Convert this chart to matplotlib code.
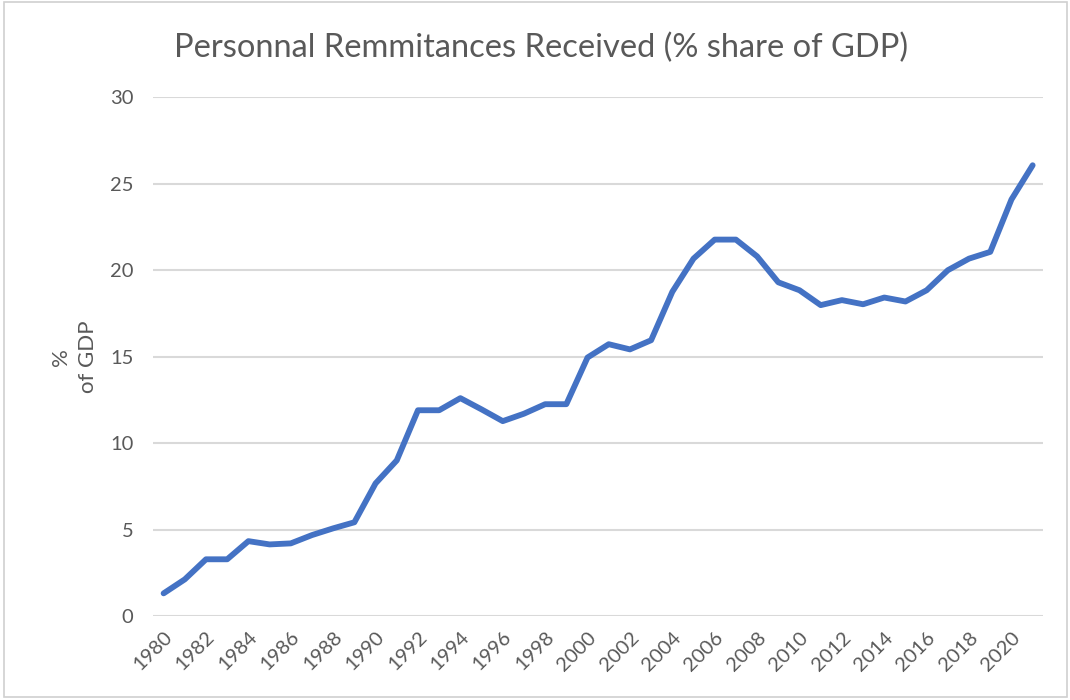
import numpy as np
import matplotlib.pyplot as plt
from matplotlib.patches import Rectangle

years = list(range(1980, 2022))
remit_pct_gdp = [1.31, 2.12, 3.28, 3.28, 4.33, 4.14, 4.20, 4.68, 5.07, 5.42,
                 7.67, 9.00, 11.90, 11.90, 12.60, 11.95, 11.27, 11.70, 12.25, 12.25,
                 14.95, 15.72, 15.42, 15.95, 18.75, 20.67, 21.77, 21.77, 20.80, 19.30,
                 18.84, 17.98, 18.27, 18.03, 18.42, 18.19, 18.84, 20.00, 20.67, 21.06,
                 24.09, 26.07]
xtick_years = list(range(1980, 2021, 2))

plt.rcParams['font.family'] = ['Lato', 'DejaVu Sans']
grey = '#595959'

fig = plt.figure(figsize=(10.7, 7.0), dpi=100)
ax = fig.add_axes([0.143, 0.12, 0.832, 0.741])

ax.plot(years, remit_pct_gdp, color='#4472C4', linewidth=4.2,
        solid_joinstyle='round', solid_capstyle='round', zorder=3)

ax.set_xlim(1979.5, 2021.5)
ax.set_ylim(0, 30)
ax.set_yticks(np.arange(0, 31, 5))
ax.set_xticks(xtick_years)
ax.set_xticklabels([str(y) for y in xtick_years], rotation=45,
                   ha='right', va='top', rotation_mode='anchor')
ax.tick_params(axis='both', length=0, labelsize=14.5, colors=grey)
ax.tick_params(axis='y', pad=14)
ax.tick_params(axis='x', pad=9)
ax.grid(axis='y', color='#d9d9d9', linewidth=1.5)
ax.set_axisbelow(True)
for s in ax.spines.values():
    s.set_visible(False)

ax.set_ylabel('%\nof GDP', fontsize=16, color=grey, labelpad=9, linespacing=1.4)
fig.text(0.506, 0.932, 'Personnal Remmitances Received (% share of GDP)',
         ha='center', va='center', fontsize=23.5, color=grey)

fig.patches.append(Rectangle((0.004, 0.004), 0.993, 0.993, transform=fig.transFigure,
                             fill=False, edgecolor='#d0d0d0', linewidth=1.2))

fig.savefig('out.png', dpi=100)
